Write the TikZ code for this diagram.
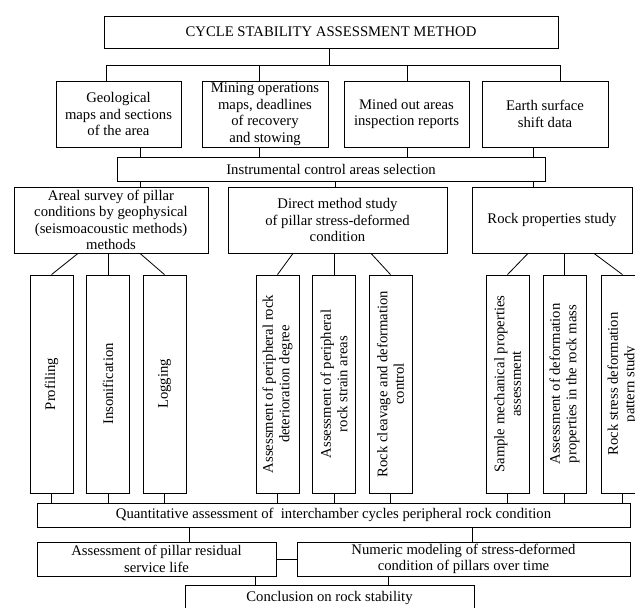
\documentclass[tikz,border=0pt]{standalone}
\usepackage{fontspec}
\setmainfont{Liberation Serif}
\usetikzlibrary{calc}
\newcommand{\boxfont}{\fontsize{14.7pt}{16.5pt}\selectfont}
\begin{document}
\begin{tikzpicture}[x=1pt,y=-1pt,
  box/.style={draw, line width=0.8pt, inner sep=0pt, align=center, font=\boxfont},
  vbox/.style={box, rotate=90, minimum width=218pt, minimum height=43pt},
  link/.style={line width=0.8pt}]
\useasboundingbox (0,0) rectangle (635,608);
\fill[white] (0,0) rectangle (635,608);
\clip (0,0) rectangle (635,608);

% top level
\node[box, minimum width=454pt, minimum height=32pt] (title) at (331,32) {CYCLE STABILITY ASSESSMENT METHOD};

\node[box, minimum width=125pt, minimum height=66pt] (g1) at (118.5,114) {Geological\\maps and sections\\of the area};
\node[box, minimum width=126pt, minimum height=66pt] (g2) at (265,114) {Mining operations\\maps, deadlines\\of recovery\\and stowing};
\node[box, minimum width=125pt, minimum height=66pt] (g3) at (406.5,114) {Mined out areas\\inspection reports};
\node[box, minimum width=126pt, minimum height=66pt] (g4) at (545,114) {Earth surface\\shift data};

\node[box, minimum width=428pt, minimum height=24pt] (instr) at (331,169) {Instrumental control areas selection};

\node[box, minimum width=194pt, minimum height=66pt] (areal) at (111,220) {Areal survey of pillar\\conditions by geophysical\\(seismoacoustic methods)\\methods};
\node[box, minimum width=219pt, minimum height=66pt] (direct) at (337.5,220) {Direct method study\\of pillar stress-deformed\\condition};
\node[box, minimum width=160pt, minimum height=66pt] (rock) at (552,220) {Rock properties study};

% vertical boxes
\node[vbox] (v1) at (51.5,384) {Profiling};
\node[vbox] (v2) at (108,384) {Insonification};
\node[vbox] (v3) at (164.5,384) {Logging};
\node[vbox] (v4) at (277.5,384) {Assessment of peripheral rock\\deterioration degree};
\node[vbox] (v5) at (334,384) {Assessment of peripheral\\rock strain areas};
\node[vbox] (v6) at (390.5,384) {Rock cleavage and deformation\\control};
\node[vbox] (v7) at (507.5,384) {Sample mechanical properties\\assessment};
\node[vbox] (v8) at (564.5,384) {Assessment of deformation\\properties in the rock mass};
\node[vbox] (v9) at (622.5,384) {Rock stress deformation\\pattern study};

% bottom
\node[box, minimum width=593pt, minimum height=24pt] (quant) at (333.5,515) {Quantitative assessment of\ \ interchamber cycles peripheral rock condition};
\node[box, minimum width=239pt, minimum height=34pt] (resid) at (156.5,559) {Assessment of pillar residual\\service life};
\node[box, minimum width=333pt, minimum height=34pt] (numer) at (463.5,559) {Numeric modeling of stress-deformed\\condition of pillars over time};
\node[box, minimum width=289pt, minimum height=25pt] (concl) at (329.5,597.5) {Conclusion on rock stability};

% connectors: top
\draw[link] (title.south -| 329,0) -- ++(0,18);
\draw[link] (g1.north -| 106,0) -- ++(0,-15) -| (g4.north -| 560,0);
\draw[link] (g2.north -| 259,0) -- ++(0,-15);
\draw[link] (g3.north -| 407,0) -- ++(0,-15);

\draw[link] (g1.south -| 140,0) -- (instr.north -| 140,0);
\draw[link] (g2.south -| 259,0) -- (instr.north -| 259,0);
\draw[link] (g3.south -| 407,0) -- (instr.north -| 407,0);
\draw[link] (g4.south -| 533,0) -- (instr.north -| 533,0);

\draw[link] (instr.south -| 140,0) -- (areal.north -| 140,0);
\draw[link] (instr.south -| 335,0) -- (direct.north -| 335,0);
\draw[link] (instr.south -| 533,0) -- (rock.north -| 533,0);

% connectors: to vertical boxes
\draw[link] (areal.south -| 78,0) -- (v1.east);
\draw[link] (areal.south -| v2.east) -- (v2.east);
\draw[link] (areal.south -| 140,0) -- (v3.east);
\draw[link] (direct.south -| 293,0) -- (v4.east);
\draw[link] (direct.south -| v5.east) -- (v5.east);
\draw[link] (direct.south -| 371,0) -- (v6.east);
\draw[link] (rock.south -| 528,0) -- (v7.east);
\draw[link] (rock.south -| v8.east) -- (v8.east);
\draw[link] (rock.south -| 594,0) -- (v9.east);

% connectors: from vertical boxes
\foreach \v in {v1,v2,v3,v4,v5,v6,v7,v8,v9}
  \draw[link] (\v.west) -- (quant.north -| \v.west);

% connectors: bottom
\draw[link] (quant.south -| 189,0) -- (resid.north -| 189,0);
\draw[link] (quant.south -| 472,0) -- (numer.north -| 472,0);
\draw[link] (resid.east) -- (numer.west);
\draw[link] (resid.south -| 255,0) -- (concl.north -| 255,0);
\draw[link] (numer.south -| 388,0) -- (concl.north -| 388,0);
\end{tikzpicture}
\end{document}
